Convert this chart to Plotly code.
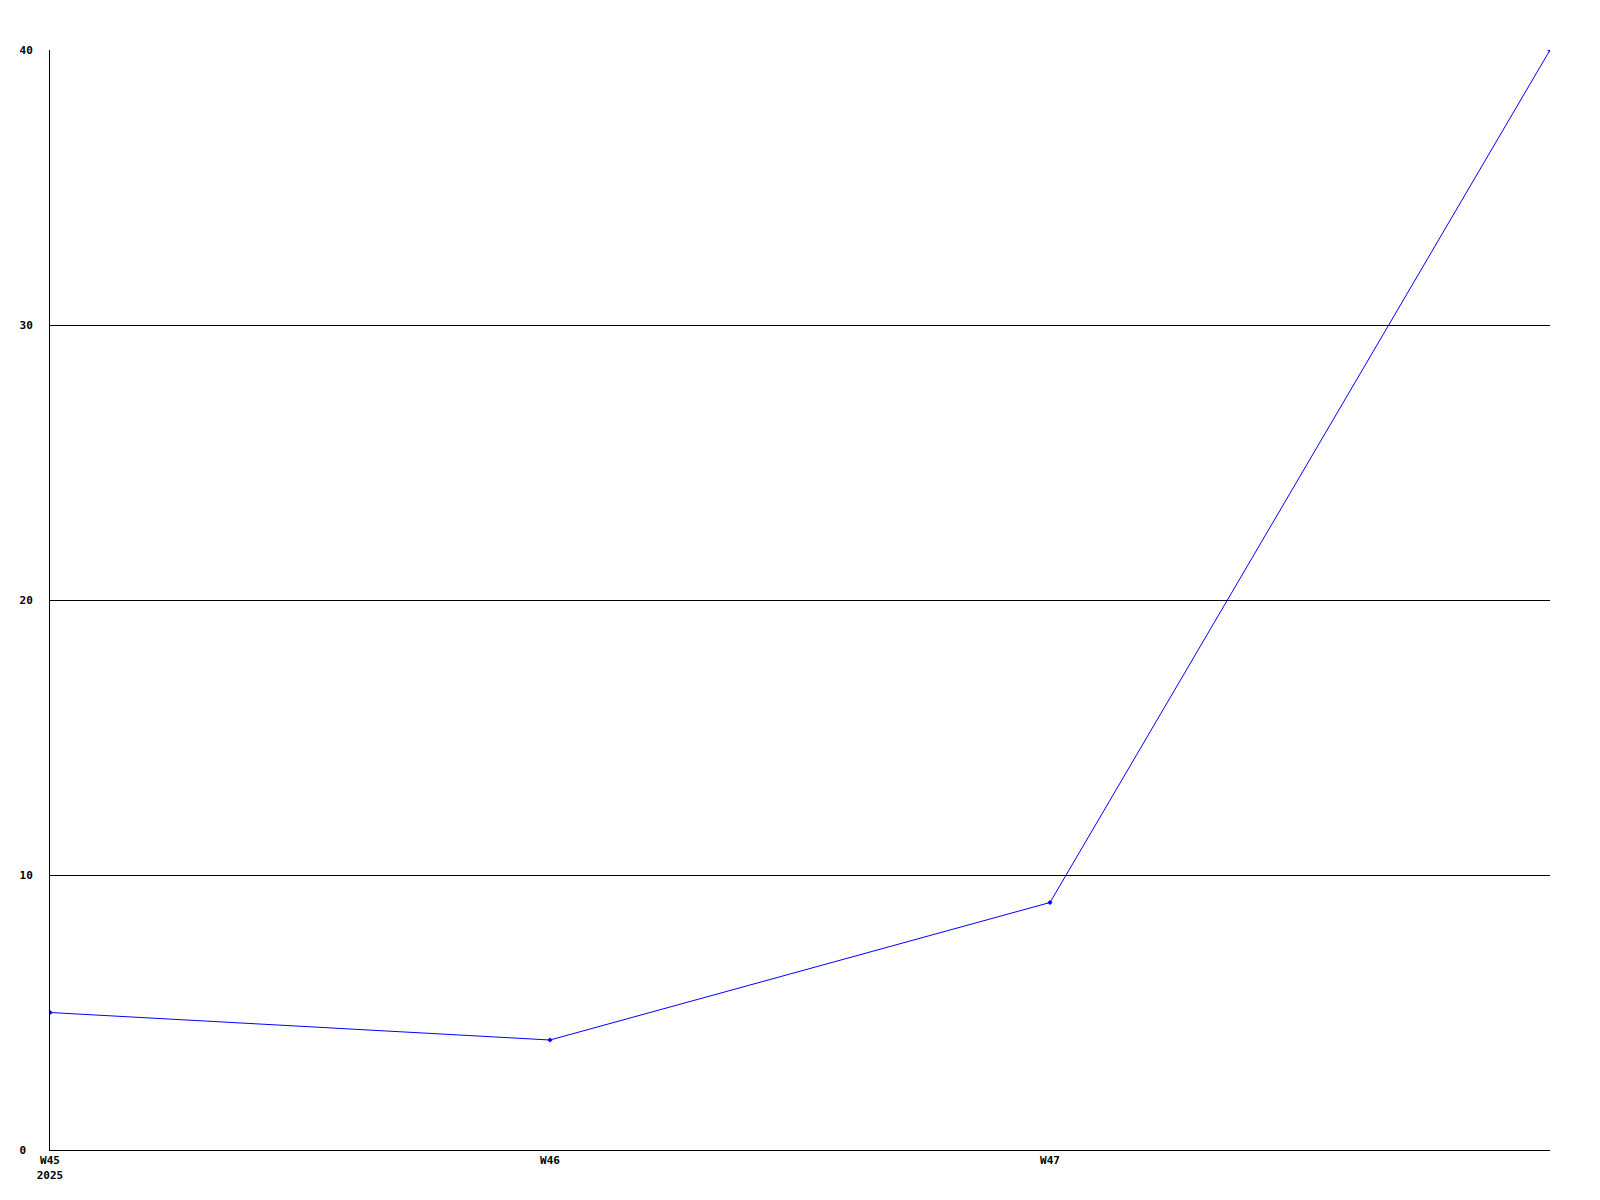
import plotly.graph_objects as go

weeks = ["W45", "W46", "W47", "W48"]
week_labels = ["W45<br>2025", "W46", "W47", ""]
counts = [5, 4, 9, 40]
y_ticks = [0, 10, 20, 30, 40]
y_tick_labels = ["0\u00a0", "10", "20", "30", "40"]

fig = go.Figure()
fig.add_trace(go.Scatter(
    x=weeks,
    y=counts,
    mode="lines+markers",
    line=dict(color="#0000ff", width=1),
    marker=dict(symbol="diamond", size=4, color="#0000ff"),
    showlegend=False,
))

tick_font = dict(family="DejaVu Sans Mono", size=11, color="black", weight="bold")

fig.update_xaxes(
    type="category",
    range=[0, 3],
    tickvals=weeks,
    ticktext=week_labels,
    showgrid=False,
    showline=True, linecolor="black", linewidth=1,
    ticks="", tickfont=tick_font,
    zeroline=False,
)
fig.update_yaxes(
    range=[0, 40],
    tickvals=y_ticks,
    ticktext=y_tick_labels,
    showgrid=True, gridcolor="black", gridwidth=1,
    showline=True, linecolor="black", linewidth=1,
    ticks="", tickfont=tick_font,
    ticklabelstandoff=14,
    zeroline=False,
)

# page body adds an 8px offset, so shift margins to keep the plot box at 50..1550 / 50..1150
fig.update_layout(
    width=1600,
    height=1200,
    margin=dict(l=42, r=58, t=42, b=58),
    plot_bgcolor="white",
    paper_bgcolor="white",
)

fig.write_html("out.html")
